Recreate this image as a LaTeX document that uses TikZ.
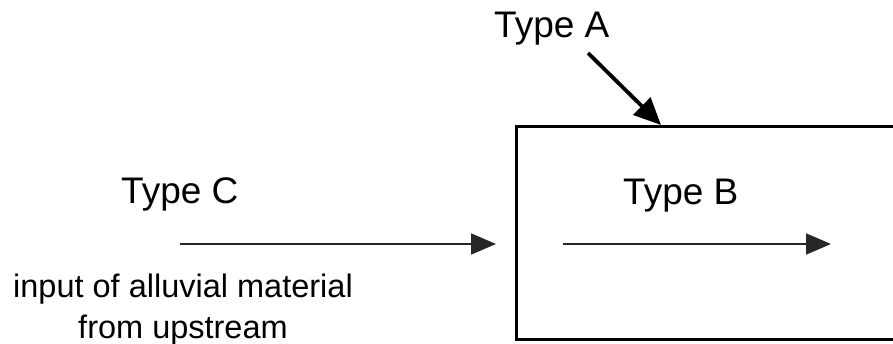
\documentclass[tikz,border=0pt]{standalone}
\usepackage{fontspec}
\setmainfont{Liberation Sans}
\usetikzlibrary{arrows.meta}
\begin{document}
\begin{tikzpicture}[x=1pt,y=-1pt,
  lbl/.style={inner sep=0pt, anchor=base west, font=\fontsize{37}{44}\selectfont},
  sub/.style={inner sep=0pt, anchor=base, font=\fontsize{32.5}{40}\selectfont},
  flow/.style={line width=1.8pt, color=black!85, -{Triangle[length=25pt,width=21pt]}},
  drop/.style={line width=3.8pt, -{Triangle[length=27pt,width=24pt]}},
  boxline/.style={line width=2.6pt}]
\useasboundingbox (0,0) rectangle (893,344);
\clip (0,0) rectangle (893,344);
\node[lbl] (tA) at (494,38) {Type A};
\node[lbl] (tC) at (121,204) {Type C};
\node[lbl] (tB) at (623,205) {Type B};
\node[sub] (in1) at (183,298) {input of alluvial material};
\node[sub] (in2) at (183,338) {from upstream};
\node[boxline, draw, inner sep=0pt, anchor=north west, minimum width=400pt, minimum height=213pt] (box) at (515,125) {};
\coordinate (a0) at (588,53);
\coordinate (a1) at (661,125);
\coordinate (c0) at (180,244);
\coordinate (c1) at (496,244);
\coordinate (b0) at (563,244);
\coordinate (b1) at (831,244);
\draw[drop] (a0) -- (a1);
\draw[flow] (c0) -- (c1);
\draw[flow] (b0) -- (b1);
\end{tikzpicture}
\end{document}
